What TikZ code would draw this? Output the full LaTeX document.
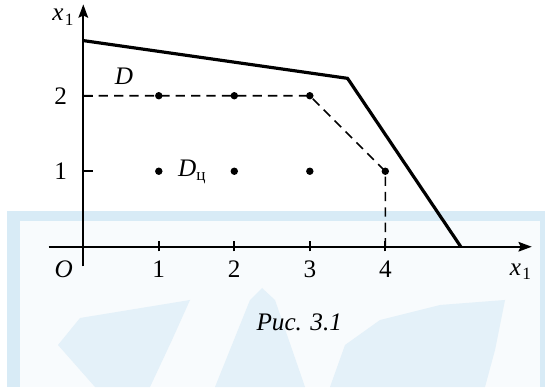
\documentclass[tikz,border=0pt]{standalone}
\usepackage{fontspec}
\setmainfont{Liberation Serif}
\usetikzlibrary{arrows.meta}
\definecolor{wm}{HTML}{D8EBF6}
\definecolor{wmlight}{HTML}{E4F1F9}
\definecolor{wmbg}{HTML}{F8FBFD}
\newcommand{\xone}{{\itshape x}\kern0.05em\raisebox{-0.35ex}{\fontsize{6.5}{7}\selectfont 1}}
\tikzset{
  axis/.style={line width=0.8pt,-{Stealth[length=5pt,width=3.6pt,inset=0.8pt]}},
  bound/.style={line width=1.2pt,line join=miter},
  intbound/.style={line width=0.6pt,dash pattern=on 3.5pt off 2.3pt},
  tick/.style={line width=0.7pt},
  pt/.style={circle,fill=black,inner sep=0pt,minimum size=2.8pt},
  lbl/.style={font=\fontsize{9.5}{11}\selectfont,inner sep=0pt},
  px/.style={shift={(-1.103,3.268)},x=0.013245cm,y=-0.013245cm},
}
\begin{document}
\begin{tikzpicture}
\useasboundingbox (-1.103,-1.858) rectangle (6.115,3.268);
% watermark (pixel coordinates)
\begin{scope}[px]
  \fill[wm] (7,211.5) rectangle (545,387);
  \fill[wmbg] (20,221) rectangle (540,387);
  \fill[wmlight] (58,345) -- (80,318) -- (190,300) -- (172,340) -- (150,387) -- (95,387) -- cycle;
  \fill[wmlight] (215,387) -- (250,300) -- (262,288) -- (275,300) -- (305,387) -- cycle;
  \fill[wmlight] (330,387) -- (345,345) -- (380,320) -- (440,305) -- (505,300) -- (495,350) -- (485,387) -- cycle;
\end{scope}
% axes
\coordinate (xs) at (-0.46,0);
\coordinate (xe) at (5.94,0);
\coordinate (ys) at (0,-0.26);
\coordinate (ye) at (0,3.21);
\draw[axis] (xs) -- (xe);
\draw[axis] (ys) -- (ye);
% ticks
\foreach \i in {1,2,3,4}{
  \draw[tick] (\i,-0.06) -- (\i,0.07);
  \node[lbl] (n\i) at (\i,-0.3) {\i};
}
\draw[tick] (0,1) -- (0.13,1);
\draw[tick] (0,2) -- (0.13,2);
\node[lbl] (m1) at (-0.3,1) {1};
\node[lbl] (m2) at (-0.3,2) {2};
\node[lbl] (O) at (-0.26,-0.3) {\itshape O};
\node[lbl] (xa) at (5.79,-0.33) {\xone};
\node[lbl] (ya) at (-0.27,3.04) {\xone};
% region D
\coordinate (A) at (0,2.73);
\coordinate (B) at (3.5,2.23);
\coordinate (C) at (5.0,0);
\draw[bound] (A) -- (B) -- (C);
% integer hull
\coordinate (P0) at (0,2);
\coordinate (P3) at (3,2);
\coordinate (P4) at (4,1);
\coordinate (P5) at (4,0);
\draw[intbound] (P0) -- (P3) -- (P4) -- (P5);
% points
\foreach \x/\y in {1/2,2/2,3/2,1/1,2/1,3/1,4/1}{
  \node[pt] (d\x\y) at (\x,\y) {};
}
\node[lbl] (D) at (0.54,2.26) {\itshape D};
\node[lbl,anchor=west] (Dz) at (1.25,0.99) {{\itshape D}\raisebox{-0.35ex}{\fontsize{6.5}{7}\selectfont ц}};
\node[lbl] (cap) at (2.86,-1.0) {\itshape Рис. 3.1};
\end{tikzpicture}
\end{document}
